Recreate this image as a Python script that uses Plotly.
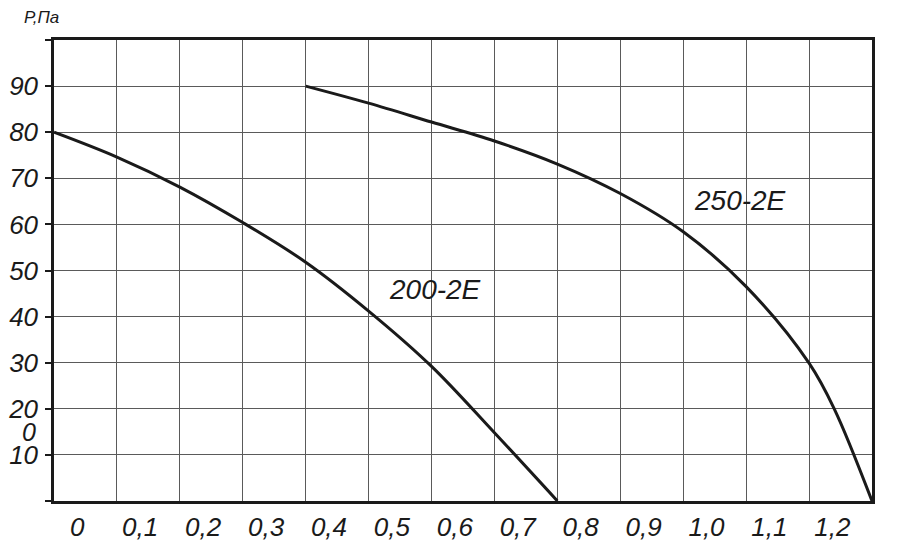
import plotly.graph_objects as go

# Data (flow, pressure Pa)
x_200 = [-0.05, 0.05, 0.15, 0.25, 0.35, 0.45, 0.55, 0.65, 0.75]
y_200 = [80, 74.6, 68.1, 60.4, 51.8, 41.2, 29.2, 14.8, 0]

x_250 = [0.35, 0.45, 0.55, 0.65, 0.75, 0.85, 0.95, 1.05, 1.15, 1.19, 1.25]
y_250 = [90, 86.3, 82.2, 78.1, 73.1, 66.7, 58.4, 46.5, 29.9, 20, 0]

x_ticks = [0, 0.1, 0.2, 0.3, 0.4, 0.5, 0.6, 0.7, 0.8, 0.9, 1.0, 1.1, 1.2]
x_ticktext = ["0", "0,1", "0,2", "0,3", "0,4", "0,5", "0,6", "0,7", "0,8", "0,9", "1,0", "1,1", "1,2"]
y_ticks = [0, 10, 20, 30, 40, 50, 60, 70, 80, 90, 100]
y_ticktext = ["", "10", "20", "30", "40", "50", "60", "70", "80", "90", ""]

LABEL_SHIFT = -0.013
FONT = "Liberation Sans, Arial, sans-serif"
INK = "#1a1a1a"
GRID = "#5a5a5a"

fig = go.Figure()
fig.add_trace(go.Scatter(x=x_200, y=y_200, mode="lines",
                         line=dict(color=INK, width=3, shape="spline", smoothing=1.0),
                         name="200-2E", hoverinfo="skip"))
fig.add_trace(go.Scatter(x=x_250, y=y_250, mode="lines",
                         line=dict(color=INK, width=3, shape="spline", smoothing=1.0),
                         name="250-2E", hoverinfo="skip"))

fig.update_layout(
    width=900, height=546,
    margin=dict(l=54, r=28, t=40, b=45, autoexpand=False),
    paper_bgcolor="white", plot_bgcolor="white",
    showlegend=False,
    xaxis=dict(
        range=[-0.05, 1.25], automargin=False,
        tickmode="array",
        tickvals=[v + LABEL_SHIFT for v in x_ticks],
        ticktext=x_ticktext,
        ticks="", showgrid=False, zeroline=False,
        tickfont=dict(family=FONT, size=26, color=INK, style="italic"),
        ticklabelstandoff=1,
        showline=True, linecolor=INK, linewidth=2.5, mirror=True,
        minor=dict(tickmode="linear", tick0=-0.05, dtick=0.1, showgrid=True,
                   gridcolor=GRID, gridwidth=1.3, ticks=""),
    ),
    yaxis=dict(
        range=[0, 100], automargin=False,
        tickmode="array", tickvals=y_ticks, ticktext=y_ticktext,
        ticks="outside", ticklen=6, tickwidth=1.5, tickcolor=INK,
        showgrid=True, gridcolor=GRID, gridwidth=1.3, zeroline=False,
        tickfont=dict(family=FONT, size=26, color=INK, style="italic"),
        ticklabelstandoff=2,
        showline=True, linecolor=INK, linewidth=2.5, mirror=True,
    ),
    annotations=[
        dict(x=0.555, y=45.8, xref="x", yref="y", text="200-2E", showarrow=False,
             font=dict(family=FONT, size=28, color=INK, style="italic")),
        dict(x=1.04, y=65.1, xref="x", yref="y", text="250-2E", showarrow=False,
             font=dict(family=FONT, size=28, color=INK, style="italic")),
        dict(x=-0.02, y=15, xref="paper", yref="y", text="0", showarrow=False,
             xanchor="right", font=dict(family=FONT, size=25, color=INK, style="italic")),
        dict(x=(41 - 54) / 818, y=(546 - 45 - 18) / 461, xref="paper", yref="paper",
             text="Р,Па", showarrow=False, xanchor="center", yanchor="middle",
             font=dict(family=FONT, size=17, color=INK, style="italic")),
    ],
)

fig.write_html("out.html", config={"displayModeBar": False},
               post_script="document.body.style.margin='0';")
